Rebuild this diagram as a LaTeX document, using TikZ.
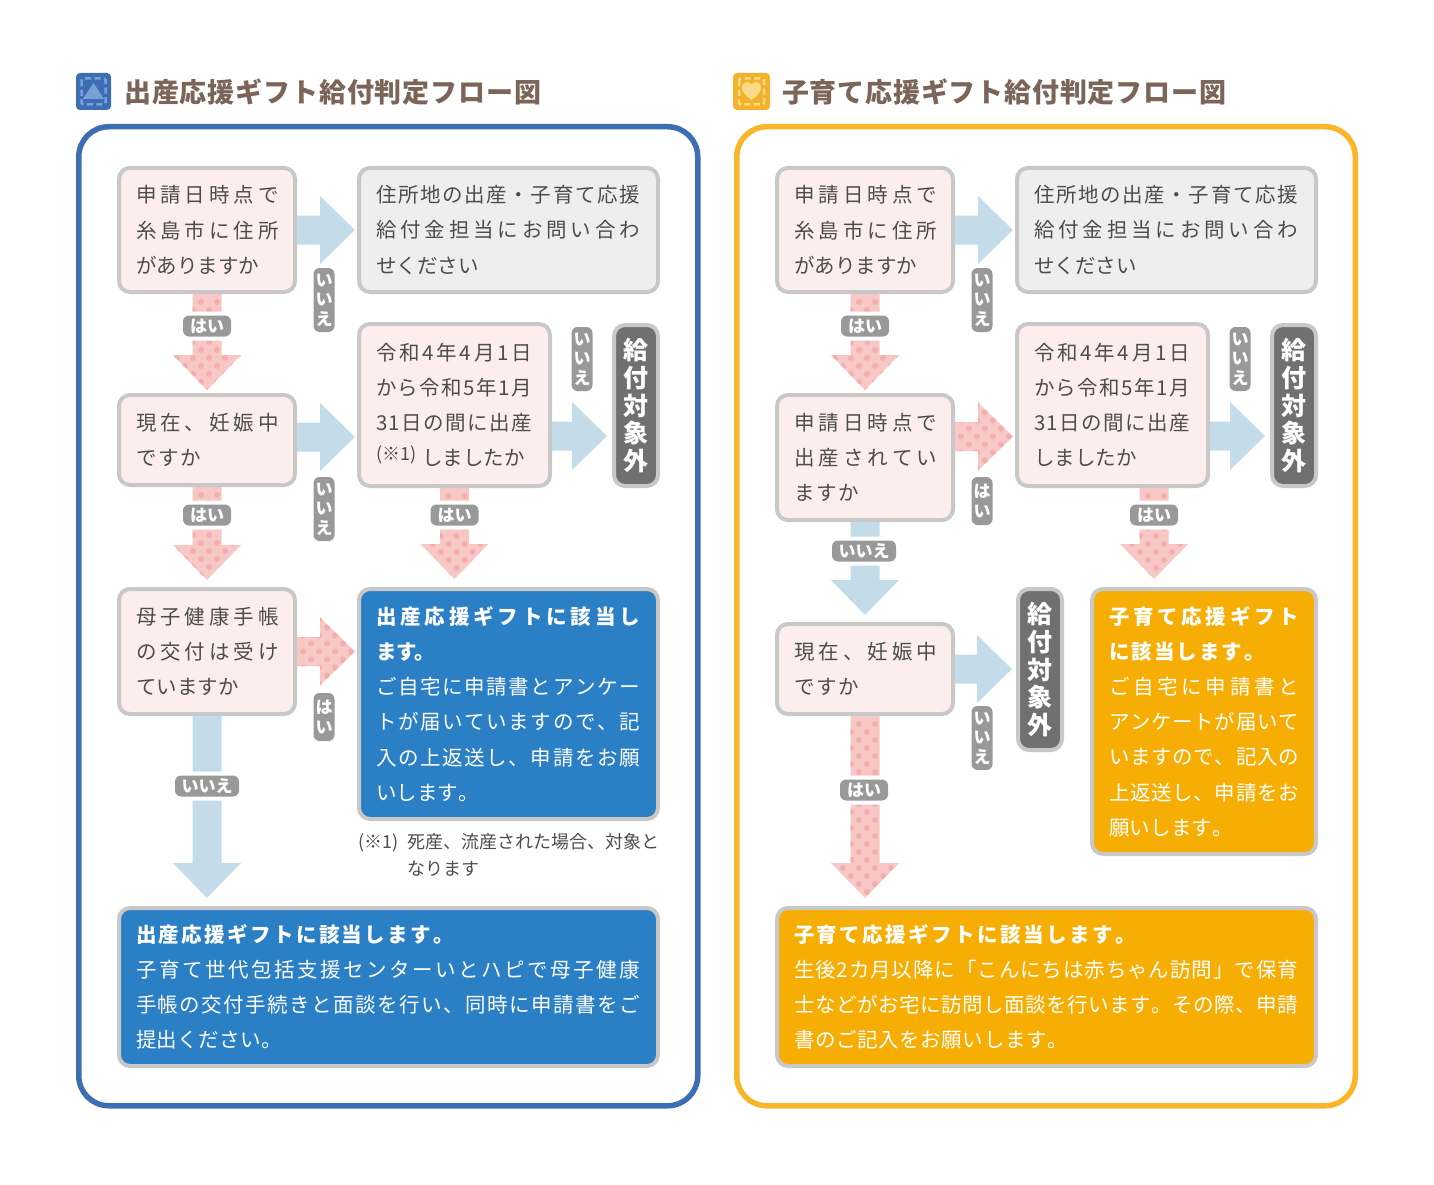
\documentclass[tikz,border=0pt]{standalone}
\usepackage{fontspec}
\setmainfont{Noto Sans CJK JP}
\usepackage{xcolor}
\usepackage{tikz}
\usetikzlibrary{calc,arrows.meta}
\definecolor{FrameBlue}{RGB}{61, 110, 180}
\definecolor{FrameOrange}{RGB}{251, 181, 42}
\definecolor{IconBlue}{RGB}{122, 160, 216}
\definecolor{IconYellow}{RGB}{248, 219, 136}
\definecolor{BoxPink}{RGB}{253, 238, 238}
\definecolor{BoxGray}{RGB}{238, 238, 238}
\definecolor{BoxEdge}{RGB}{200, 200, 200}
\definecolor{ResBlue}{RGB}{42, 127, 197}
\definecolor{ResOrange}{RGB}{246, 174, 5}
\definecolor{ArrowBlue}{RGB}{196, 220, 234}
\definecolor{ArrowPink}{RGB}{248, 200, 198}
\definecolor{DotPink}{RGB}{245, 174, 175}
\definecolor{PillGray}{RGB}{153, 153, 153}
\definecolor{NoGray}{RGB}{112, 112, 112}
\definecolor{TitleBrown}{RGB}{122, 101, 88}
\definecolor{InkGray}{RGB}{77, 77, 77}

% one line set to an exact width, the characters spread evenly
\def\spreadnext#1#2{#1\ifx#2\relax\else\hfil\expandafter\spreadnext\expandafter#2\fi}
\newcommand\jl[2]{\makebox[#1pt][s]{\spreadnext#2\relax}}

\newcommand\downshape{($(s)+(-14.5,0)$) -- ($(t)+(-14.5,-35)$) -- ($(t)+(-34,-35)$) -- (t)
    -- ($(t)+(34,-35)$) -- ($(t)+(14.5,-35)$) -- ($(s)+(14.5,0)$) -- cycle}
\newcommand\rightshape{($(s)+(0,-14.5)$) -- ($(t)+(-35,-14.5)$) -- ($(t)+(-35,-34)$) -- (t)
    -- ($(t)+(-35,34)$) -- ($(t)+(-35,14.5)$) -- ($(s)+(0,14.5)$) -- cycle}
\newcommand\setdown[3]{\coordinate (s) at (#2); \coordinate (t) at ($(s |- #3)+(0,-#1)$);}
\newcommand\setright[3]{\coordinate (s) at (#2); \coordinate (t) at ($(s -| #3)+(-#1,0)$);}
\newcommand\bluedown[3][3]{\setdown{#1}{#2}{#3} \fill[ArrowBlue] \downshape;}
\newcommand\blueright[3][2]{\setright{#1}{#2}{#3} \fill[ArrowBlue] \rightshape;}
\newcommand\pinkdown[3][3]{\setdown{#1}{#2}{#3}
    \begin{scope}
        \fill[ArrowPink] \downshape;
        \clip \downshape;
        \foreach \i in {-48,-32,...,48} \foreach \j in {0,16,...,192} {
            \fill[DotPink] ($(s)+(\i-6,\j+8)$) circle (3pt);
            \fill[DotPink] ($(s)+(\i+2,\j+16)$) circle (3pt);
        }
    \end{scope}}
\newcommand\pinkright[3][2]{\setright{#1}{#2}{#3}
    \begin{scope}
        \fill[ArrowPink] \rightshape;
        \clip \rightshape;
        \foreach \i in {-48,-32,...,48} \foreach \j in {0,16,...,64} {
            \fill[DotPink] ($(s)+(\j+6,\i)$) circle (3pt);
            \fill[DotPink] ($(s)+(\j+14,\i+8)$) circle (3pt);
        }
    \end{scope}}

\tikzset{
    boxsize/.code args={#1x#2}{\pgfmathsetmacro\boxtw{#1-38}
        \tikzset{minimum width=#1-4, minimum height=#2-4, text width=\boxtw pt}},
    basebox/.style={anchor=north west, rounded corners=11pt, line width=4pt, draw=BoxEdge,
        inner xsep=17pt, inner ysep=0pt, align=left, text=InkGray,
        font=\fontsize{20.5}{35.2}\selectfont},
    qbox/.style={basebox, fill=BoxPink},
    graybox/.style={basebox, fill=BoxGray},
    bluebox/.style={basebox, fill=ResBlue, text=white},
    orangebox/.style={basebox, fill=ResOrange, text=white},
    nobox/.style={anchor=north west, rounded corners=11pt, line width=4pt, draw=BoxEdge,
        fill=NoGray, text=white, align=center, inner sep=0pt, minimum width=44pt,
        minimum height=161pt, font=\fontsize{25}{27.7}\selectfont\bfseries},
    pill/.style={rounded corners=6pt, fill=PillGray, text=white, inner sep=0pt,
        preaction={draw=white, line width=8pt},
        font=\fontsize{17}{19.5}\selectfont\bfseries},
    yespill/.style={pill, minimum width=48pt, minimum height=21pt},
    nopill/.style={pill, minimum width=64pt, minimum height=21pt},
    vyespill/.style={pill, align=center, minimum width=21pt, minimum height=48pt},
    vnopill/.style={pill, align=center, minimum width=21pt, minimum height=64pt},
    heading/.style={anchor=west, inner sep=0pt, text=TitleBrown,
        font=\fontsize{27}{30}\selectfont\bfseries},
    icondash/.style={line width=2.5pt, dash pattern=on 6pt off 3.5pt},
}

\begin{document}
\begin{tikzpicture}[x=1pt, y=-1pt]
    \useasboundingbox (0,0) rectangle (1434,1185);

    % left panel
    \fill[FrameBlue, rounded corners=4pt] (76,73) rectangle (111,110);
    \draw[IconBlue, icondash, rounded corners=2pt] (81.5,78.5) rectangle (105.5,104.5);
    \fill[IconBlue] (93.5,83) -- (104,99) -- (83,99) -- cycle;
    \node[heading] (titleA) at (124,92) {\jl{417}{出産応援ギフト給付判定フロー図}};
    \draw[FrameBlue, line width=5.5pt, rounded corners=30pt] (78.75,126.75) rectangle (697.75,1105.75);

    \node[qbox, boxsize=180x128] (q1) at (117,166)
        {\jl{143}{申請日時点で}\\\jl{143}{糸島市に住所}\\がありますか};
    \node[graybox, boxsize=303x128] (ask) at (357,166)
        {\jl{264}{住所地の出産・子育て応援}\\\jl{264}{給付金担当にお問い合わ}\\せください};
    \node[qbox, boxsize=180x94] (q2) at (117,393)
        {\jl{143}{現在、妊娠中}\\\jl{65}{ですか}};
    \node[qbox, boxsize=195x166] (q3) at (357,322)
        {\jl{156}{令和4年4月1日}\\\jl{156}{から令和5年1月}\\\jl{156}{31日の間に出産}\\%
        \makebox[46pt][l]{\raisebox{5pt}{\fontsize{18}{18}\selectfont (※1)}}\jl{97}{しましたか}};
    \node[nobox] (out1) at (612,323) {給\\付\\対\\象\\外};
    \node[qbox, boxsize=180x129] (q4) at (117,587)
        {\jl{143}{母子健康手帳}\\\jl{143}{の交付は受け}\\ていますか};
    \node[bluebox, boxsize=303x234] (res1) at (357,587)
        {{\bfseries\jl{264}{出産応援ギフトに該当し}}\\{\bfseries ます。}\\%
        \jl{264}{ご自宅に申請書とアンケー}\\\jl{264}{トが届いていますので、記}\\%
        \jl{264}{入の上返送し、申請をお願}\\\jl{103}{いします。}};
    \node[bluebox, boxsize=543x162] (res2) at (117,906)
        {{\bfseries\jl{318}{出産応援ギフトに該当します。}}\\%
        \jl{504}{子育て世代包括支援センターいとハピで母子健康}\\%
        \jl{504}{手帳の交付手続きと面談を行い、同時に申請書をご}\\\jl{146}{提出ください。}};
    \node[anchor=north west, inner sep=0pt, align=left, text=InkGray,
        font=\fontsize{18}{27}\selectfont] (note) at (358,833)
        {\makebox[49pt][l]{(※1)}\jl{249}{死産、流産された場合、対象と}\\\hspace*{49pt}なります};

    \pinkdown{q1.south}{q2.north}
    \blueright{q1.east}{ask.west}
    \pinkdown[7]{q2.south}{q4.north}
    \pinkdown[8]{q3.south}{res1.north}
    \blueright{$(q2.east)+(0,-3)$}{q3.west}
    \blueright[5]{$(q3.east)+(0,31)$}{out1.west}
    \pinkright{q4.east}{res1.west}
    \bluedown[8]{q4.south}{res2.north}

    \node[yespill] (y1) at (207,326) {はい};
    \node[vnopill] (n1) at (324,300) {い\\い\\え};
    \node[yespill] (y2) at (207,515) {はい};
    \node[vnopill] (n2) at (324,509) {い\\い\\え};
    \node[vnopill] (n3) at (582,359) {い\\い\\え};
    \node[yespill] (y3) at (454.5,515) {はい};
    \node[vyespill] (y4) at (324,717) {は\\い};
    \node[nopill] (n4) at (207,786) {いいえ};

    % right panel
    \fill[FrameOrange!90!brown, rounded corners=4pt] (733,73) rectangle (770,110);
    \draw[IconYellow, icondash, rounded corners=2pt] (739,78.5) rectangle (764,104.5);
    \fill[IconYellow] (751.5,100) .. controls (745,95) and (742,92) .. (742,87.5)
        .. controls (742,81) and (750,80.5) .. (751.5,85)
        .. controls (753,80.5) and (761,81) .. (761,87.5)
        .. controls (761,92) and (758,95) .. (751.5,100) -- cycle;
    \node[heading] (titleB) at (782,92) {\jl{444}{子育て応援ギフト給付判定フロー図}};
    \draw[FrameOrange, line width=5.5pt, rounded corners=30pt] (736.75,126.75) rectangle (1355.25,1105.75);

    \node[qbox, boxsize=180x128] (Q1) at (775,166)
        {\jl{143}{申請日時点で}\\\jl{143}{糸島市に住所}\\がありますか};
    \node[graybox, boxsize=303x128] (Ask) at (1015,166)
        {\jl{264}{住所地の出産・子育て応援}\\\jl{264}{給付金担当にお問い合わ}\\せください};
    \node[qbox, boxsize=180x129] (Q2) at (775,393)
        {\jl{143}{申請日時点で}\\\jl{143}{出産されてい}\\\jl{65}{ますか}};
    \node[qbox, boxsize=195x166] (Q3) at (1015,322)
        {\jl{156}{令和4年4月1日}\\\jl{156}{から令和5年1月}\\\jl{156}{31日の間に出産}\\しましたか};
    \node[nobox] (Out1) at (1270,323) {給\\付\\対\\象\\外};
    \node[qbox, boxsize=180x94] (Q4) at (775,622)
        {\jl{143}{現在、妊娠中}\\\jl{65}{ですか}};
    \node[nobox] (Out2) at (1016,587) {給\\付\\対\\象\\外};
    \node[orangebox, boxsize=228x269] (Res1) at (1090,587)
        {{\bfseries\jl{190}{子育て応援ギフト}}\\{\bfseries\jl{156}{に該当します。}}\\%
        \jl{190}{ご自宅に申請書と}\\\jl{190}{アンケートが届いて}\\%
        \jl{190}{いますので、記入の}\\\jl{190}{上返送し、申請をお}\\\jl{124}{願いします。}};
    \node[orangebox, boxsize=543x162] (Res2) at (775,906)
        {{\bfseries\jl{342}{子育て応援ギフトに該当します。}}\\%
        \jl{504}{生後2カ月以降に「こんにちは赤ちゃん訪問」で保育}\\%
        \jl{504}{士などがお宅に訪問し面談を行います。その際、申請}\\%
        \jl{274}{書のご記入をお願いします。}};

    \pinkdown{Q1.south}{Q2.north}
    \blueright{Q1.east}{Ask.west}
    \pinkright{$(Q2.east)+(0,-21)$}{Q3.west}
    \blueright[5]{$(Q3.east)+(0,31)$}{Out1.west}
    \pinkdown[8]{$(Q3.south)+(41.5,0)$}{Res1.north}
    \bluedown[7]{Q2.south}{Q4.north}
    \blueright[4]{Q4.east}{Out2.west}
    \pinkdown[8]{Q4.south}{Res2.north}

    \node[yespill] (Y1) at (865,326) {はい};
    \node[vnopill] (N1) at (982,300) {い\\い\\え};
    \node[vyespill] (Y2) at (982,501) {は\\い};
    \node[vnopill] (N2) at (1240,359) {い\\い\\え};
    \node[yespill] (Y3) at (1154,515) {はい};
    \node[nopill] (N3) at (864,551) {いいえ};
    \node[vnopill] (N4) at (982,738) {い\\い\\え};
    \node[yespill] (Y4) at (864,790) {はい};
\end{tikzpicture}
\end{document}
